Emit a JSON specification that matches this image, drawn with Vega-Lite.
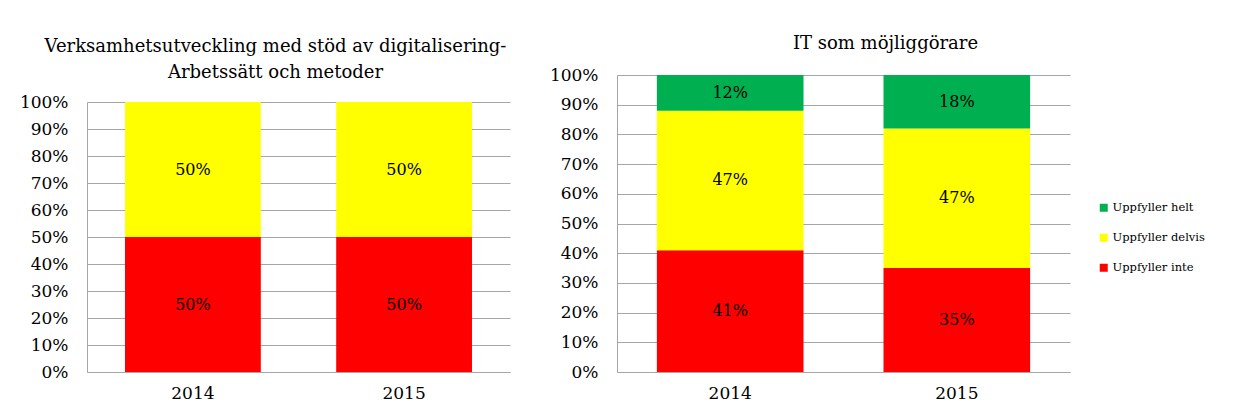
{
  "$schema": "https://vega.github.io/schema/vega-lite/v6.json",
  "padding": {"left": 19, "top": 35, "right": 0, "bottom": 0},
  "background": "white",
  "config": {
    "font": "DejaVu Serif",
    "view": {"stroke": null},
    "axis": {
      "labelFont": "DejaVu Serif",
      "labelFontSize": 17,
      "labelColor": "#000000",
      "domainColor": "#A6A6A6",
      "gridColor": "#A6A6A6",
      "ticks": false,
      "tickSize": 0,
      "labelOverlap": false,
      "title": null
    },
    "title": {"font": "DejaVu Serif", "fontSize": 18, "fontWeight": "normal", "color": "#000000", "lineHeight": 26},
    "concat": {"spacing": 39},
    "legend": {"labelFont": "DejaVu Serif"}
  },
  "datasets": {
    "left": [
      {"year": "2014", "status": "Uppfyller inte", "rank": 1, "value": 0.5},
      {"year": "2014", "status": "Uppfyller delvis", "rank": 2, "value": 0.5},
      {"year": "2015", "status": "Uppfyller inte", "rank": 1, "value": 0.5},
      {"year": "2015", "status": "Uppfyller delvis", "rank": 2, "value": 0.5}
    ],
    "right": [
      {"year": "2014", "status": "Uppfyller inte", "rank": 1, "value": 0.41},
      {"year": "2014", "status": "Uppfyller delvis", "rank": 2, "value": 0.47},
      {"year": "2014", "status": "Uppfyller helt", "rank": 3, "value": 0.12},
      {"year": "2015", "status": "Uppfyller inte", "rank": 1, "value": 0.35},
      {"year": "2015", "status": "Uppfyller delvis", "rank": 2, "value": 0.47},
      {"year": "2015", "status": "Uppfyller helt", "rank": 3, "value": 0.18}
    ]
  },
  "resolve": {"scale": {"color": "independent"}, "legend": {"color": "independent"}},
  "hconcat": [
    {
      "data": {"name": "left"},
      "width": 423,
      "height": 297,
      "title": {"text": ["Verksamhetsutveckling med stöd av digitalisering-", "Arbetssätt och metoder"], "dx": -23, "offset": -7},
      "transform": [
        {"stack": "value", "groupby": ["year"], "sort": [{"field": "rank", "order": "ascending"}], "as": ["v0", "v1"]}
      ],
      "encoding": {
        "x": {"field": "year", "type": "nominal", "scale": {"paddingInner": 0.357, "paddingOuter": 0.18}, "axis": {"labelAngle": 0, "labelPadding": 13, "grid": false}}
      },
      "layer": [
        {
          "mark": {"type": "bar"},
          "encoding": {
            "y": {"field": "v0", "type": "quantitative", "scale": {"domain": [0, 1], "nice": false, "range": [297, 27]}, "axis": {"format": ".0%", "values": [0, 0.1, 0.2, 0.3, 0.4, 0.5, 0.6, 0.7, 0.8, 0.9, 1], "labelPadding": 19, "grid": true, "labelOverlap": false}},
            "y2": {"field": "v1"},
            "color": {"field": "status", "type": "nominal", "scale": {"domain": ["Uppfyller helt", "Uppfyller delvis", "Uppfyller inte"], "range": ["#00B050", "#FFFF00", "#FF0000"]}, "legend": null}
          }
        },
        {
          "transform": [
            {"fold": ["v0", "v1"], "as": ["edge", "pos"]},
            {"aggregate": [{"op": "mean", "field": "pos", "as": "mid"}], "groupby": ["year", "status", "value"]}
          ],
          "mark": {"type": "text", "fontSize": 16, "color": "#000000", "font": "DejaVu Serif"},
          "encoding": {
            "y": {"field": "mid", "type": "quantitative", "axis": {"format": ".0%", "values": [0, 0.1, 0.2, 0.3, 0.4, 0.5, 0.6, 0.7, 0.8, 0.9, 1], "labelPadding": 19, "grid": true, "labelOverlap": false}},
            "text": {"field": "value", "type": "quantitative", "format": ".0%"}
          }
        }
      ]
    },
    {
      "data": {"name": "right"},
      "width": 453,
      "height": 297,
      "title": {"text": "IT som möjliggörare", "dx": 42, "offset": 13},
      "transform": [
        {"stack": "value", "groupby": ["year"], "sort": [{"field": "rank", "order": "ascending"}], "as": ["v0", "v1"]}
      ],
      "encoding": {
        "x": {"field": "year", "type": "nominal", "scale": {"paddingInner": 0.353, "paddingOuter": 0.176}, "axis": {"labelAngle": 0, "labelPadding": 13, "grid": false}}
      },
      "layer": [
        {
          "mark": {"type": "bar"},
          "encoding": {
            "y": {"field": "v0", "type": "quantitative", "scale": {"domain": [0, 1], "nice": false}, "axis": {"format": ".0%", "values": [0, 0.1, 0.2, 0.3, 0.4, 0.5, 0.6, 0.7, 0.8, 0.9, 1], "labelPadding": 19, "grid": true, "labelOverlap": false}},
            "y2": {"field": "v1"},
            "color": {
              "field": "status", "type": "nominal",
              "scale": {"domain": ["Uppfyller helt", "Uppfyller delvis", "Uppfyller inte"], "range": ["#00B050", "#FFFF00", "#FF0000"]},
              "legend": {"title": null, "orient": "none", "legendX": 481, "legendY": 127, "symbolType": "square", "symbolSize": 64, "symbolStrokeWidth": 0, "labelFontSize": 11.5, "labelColor": "#000000", "rowPadding": 17, "labelOffset": 3}
            }
          }
        },
        {
          "transform": [
            {"fold": ["v0", "v1"], "as": ["edge", "pos"]},
            {"aggregate": [{"op": "mean", "field": "pos", "as": "mid"}], "groupby": ["year", "status", "value"]}
          ],
          "mark": {"type": "text", "fontSize": 16, "color": "#000000", "font": "DejaVu Serif"},
          "encoding": {
            "y": {"field": "mid", "type": "quantitative", "axis": {"format": ".0%", "values": [0, 0.1, 0.2, 0.3, 0.4, 0.5, 0.6, 0.7, 0.8, 0.9, 1], "labelPadding": 19, "grid": true, "labelOverlap": false}},
            "text": {"field": "value", "type": "quantitative", "format": ".0%"}
          }
        }
      ]
    }
  ]
}
